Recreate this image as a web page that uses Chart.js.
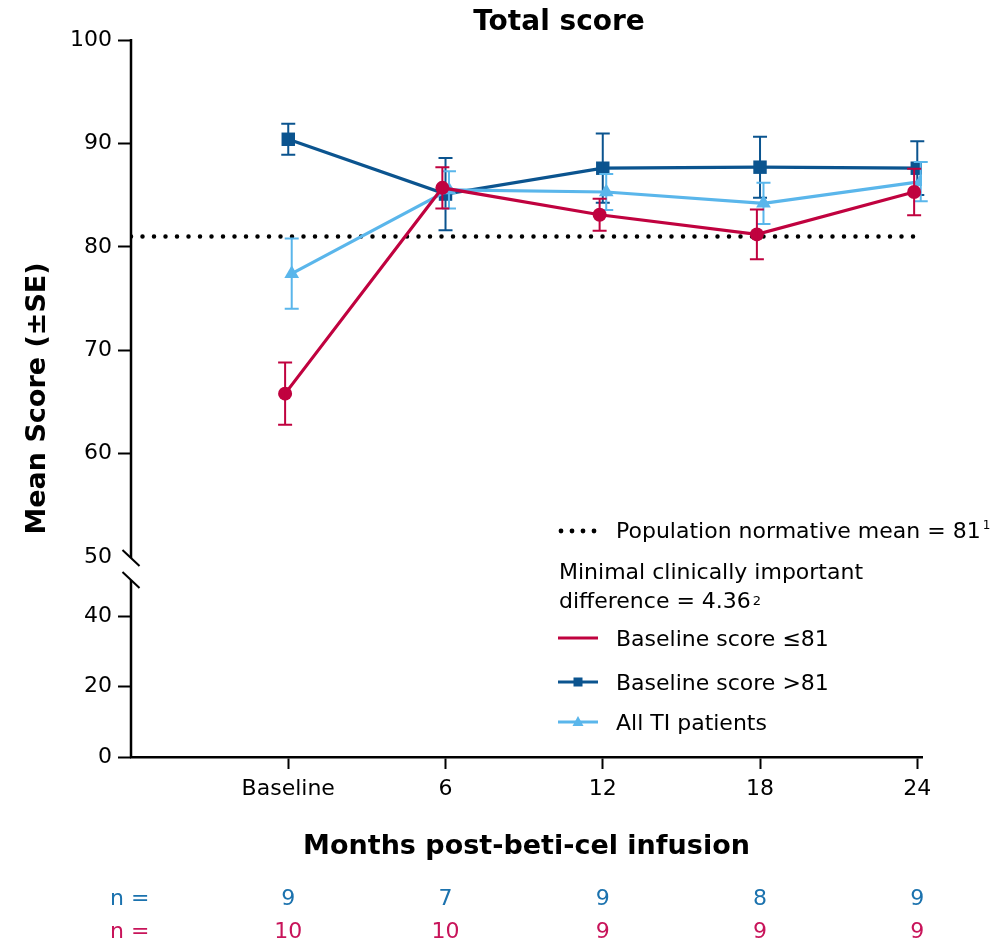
<!DOCTYPE html>
<html><head><meta charset="utf-8">
<script src="https://cdn.jsdelivr.net/npm/chart.js@4.4.1/dist/chart.umd.min.js"></script>
<style>html,body{margin:0;padding:0;background:#fff;} #wrap{width:999px;height:943px;position:relative;}</style>
</head><body><div id="wrap"><canvas id="c" width="999" height="943"></canvas></div>
<script>
// ---------- data ----------
const chartTitle = 'Total score';
const xLabels = ['Baseline', '6', '12', '18', '24'];
const lowLabel = 'Baseline score \u226481';
const lowMean = [65.8, 85.7, 83.1, 81.2, 85.3];
const lowSE   = [3.0, 2.0, 1.55, 2.4, 2.25];
const highLabel = 'Baseline score >81';
const highMean = [90.4, 85.1, 87.6, 87.7, 87.6];
const highSE   = [1.5, 3.5, 3.35, 2.95, 2.6];
const allLabel = 'All TI patients';
const allMean = [77.4, 85.5, 85.3, 84.2, 86.3];
const allSE   = [3.4, 1.8, 1.75, 2.0, 1.9];
const normMean = 81;
const mcid = 4.36;
const yTickValues = [0, 20, 40, 50, 60, 70, 80, 90, 100];
const nHigh = [9, 7, 9, 8, 9];
const nLow  = [10, 10, 9, 9, 9];

// ---------- style ----------
const RED = '#c0023f', DARK = '#0b548f', LIGHT = '#5ab6eb';
const N_BLUE = '#1b72ae', N_RED = '#c8145a';
const FONT = '"DejaVu Sans", sans-serif';
const BREAK_VALUE = 50, UPPER_FRAC = 517 / 717, LOWER_FRAC = 176 / 717;
const DODGE = {low: -0.02, high: 0, all: 0.022};

Chart.defaults.font.family = FONT;
Chart.defaults.color = '#000';

class BrokenLinearScale extends Chart.LinearScale {
  static id = 'brokenLinear';
  static defaults = {};
  buildTicks() { return yTickValues.map(v => ({value: v})); }
  getPixelForValue(v) {
    const h = this.bottom - this.top;
    if (v >= BREAK_VALUE) return this.top + (this.max - v) / (this.max - BREAK_VALUE) * h * UPPER_FRAC;
    return this.bottom - (v - this.min) / (BREAK_VALUE - this.min) * h * LOWER_FRAC;
  }
  getValueForPixel(p) {
    const h = this.bottom - this.top;
    const upBottom = this.top + h * UPPER_FRAC;
    if (p <= upBottom) return this.max - (p - this.top) / (h * UPPER_FRAC) * (this.max - BREAK_VALUE);
    return this.min + (this.bottom - p) / (h * LOWER_FRAC) * (BREAK_VALUE - this.min);
  }
}
Chart.register(BrokenLinearScale);

const pts = (means, d) => means.map((m, i) => ({x: i + d, y: m}));

const extras = {
  id: 'extras',
  afterDatasetDraw(chart, args) {
    const ds = chart.data.datasets[args.index];
    if (!ds.se) return;
    const ctx = chart.ctx, xs = chart.scales.x, ys = chart.scales.y;
    ctx.save();
    ctx.strokeStyle = ds.borderColor;
    ctx.lineWidth = 2;
    ds.data.forEach((p, i) => {
      const x = xs.getPixelForValue(p.x);
      const y1 = ys.getPixelForValue(p.y + ds.se[i]);
      const y2 = ys.getPixelForValue(p.y - ds.se[i]);
      ctx.beginPath();
      ctx.moveTo(x, y1); ctx.lineTo(x, y2);
      ctx.moveTo(x - 7, y1); ctx.lineTo(x + 7, y1);
      ctx.moveTo(x - 7, y2); ctx.lineTo(x + 7, y2);
      ctx.stroke();
    });
    ctx.restore();
  },
  afterDraw(chart) {
    const ctx = chart.ctx, xs = chart.scales.x, ys = chart.scales.y, ca = chart.chartArea;
    ctx.save();
    // broken y axis
    const ax = ca.left;
    const upEnd = ys.getPixelForValue(BREAK_VALUE);
    const lowStart = ys.getPixelForValue(BREAK_VALUE - 1e-6);
    ctx.strokeStyle = '#000'; ctx.lineWidth = 2.5; ctx.lineCap = 'butt';
    ctx.beginPath();
    ctx.moveTo(ax, ys.getPixelForValue(ys.max) - 1); ctx.lineTo(ax, upEnd + 1);
    ctx.moveTo(ax, lowStart - 1); ctx.lineTo(ax, ca.bottom + 1);
    ctx.stroke();
    ctx.lineWidth = 2;
    [upEnd + 1, lowStart - 1].forEach(c => {
      ctx.beginPath(); ctx.moveTo(ax - 8.5, c - 8); ctx.lineTo(ax + 8.5, c + 8); ctx.stroke();
    });

    // title
    ctx.fillStyle = '#000';
    ctx.textAlign = 'center'; ctx.textBaseline = 'alphabetic';
    ctx.font = 'bold 28px ' + FONT;
    ctx.fillText(chartTitle, 559, 30);

    // n rows
    ctx.font = '22px ' + FONT;
    ctx.textAlign = 'left';
    ctx.fillStyle = N_BLUE; ctx.fillText('n =', 110, 905);
    ctx.fillStyle = N_RED; ctx.fillText('n =', 110, 938);
    ctx.textAlign = 'center';
    nHigh.forEach((n, i) => { ctx.fillStyle = N_BLUE; ctx.fillText(String(n), xs.getPixelForValue(i), 905); });
    nLow.forEach((n, i) => { ctx.fillStyle = N_RED; ctx.fillText(String(n), xs.getPixelForValue(i), 938); });

    // legend
    ctx.textAlign = 'left';
    ctx.fillStyle = '#000';
    for (let k = 0; k < 4; k++) { ctx.beginPath(); ctx.arc(561 + k * 11, 531, 2.4, 0, Math.PI * 2); ctx.fill(); }
    const t1 = 'Population normative mean = ' + normMean;
    ctx.font = '22px ' + FONT;
    ctx.fillText(t1, 616, 538);
    let w = ctx.measureText(t1).width;
    ctx.font = '12px ' + FONT; ctx.fillText('1', 616 + w + 2, 529);
    ctx.font = '22px ' + FONT;
    ctx.fillText('Minimal clinically important', 559, 579);
    const t2 = 'difference = ' + mcid;
    ctx.fillText(t2, 559, 608);
    w = ctx.measureText(t2).width;
    ctx.font = '13px ' + FONT; ctx.fillText('2', 559 + w + 2, 605);
    ctx.font = '22px ' + FONT;
    const rows = [[RED, lowLabel, 638, null], [DARK, highLabel, 682, 'rect'], [LIGHT, allLabel, 722, 'tri']];
    rows.forEach(([col, lab, y, mk]) => {
      ctx.strokeStyle = col; ctx.lineWidth = 3;
      ctx.beginPath(); ctx.moveTo(558, y); ctx.lineTo(598, y); ctx.stroke();
      ctx.fillStyle = col;
      if (mk === 'rect') ctx.fillRect(573.5, y - 4.5, 9, 9);
      if (mk === 'tri') { ctx.beginPath(); ctx.moveTo(578, y - 6); ctx.lineTo(583.5, y + 4); ctx.lineTo(572.5, y + 4); ctx.closePath(); ctx.fill(); }
      ctx.fillStyle = '#000';
      ctx.fillText(lab, 616, y + 8);
    });
    ctx.restore();
  }
};

new Chart(document.getElementById('c'), {
  type: 'line',
  data: {
    datasets: [
      {label: lowLabel, data: pts(lowMean, DODGE.low), se: lowSE, borderColor: RED, backgroundColor: RED,
       borderWidth: 3.2, pointStyle: 'circle', pointRadius: 7, pointBorderWidth: 0, order: 0},
      {label: highLabel, data: pts(highMean, DODGE.high), se: highSE, borderColor: DARK, backgroundColor: DARK,
       borderWidth: 3.2, pointStyle: 'rect', pointRadius: 9.5, pointBorderWidth: 0, order: 2},
      {label: allLabel, data: pts(allMean, DODGE.all), se: allSE, borderColor: LIGHT, backgroundColor: LIGHT,
       borderWidth: 3.2, pointStyle: 'triangle', pointRadius: 8.5, pointBorderWidth: 0, order: 1},
      {label: 'Population normative mean', data: [{x: -1, y: normMean}, {x: 4.03, y: normMean}],
       borderColor: '#000', borderWidth: 4.5, borderDash: [0, 11.5], borderCapStyle: 'round',
       pointRadius: 0, order: 3}
    ]
  },
  options: {
    responsive: false,
    animation: false,
    layout: {padding: {left: 0, top: 40, right: 77, bottom: 0}},
    plugins: {legend: {display: false}, tooltip: {enabled: false}, title: {display: false}},
    elements: {line: {tension: 0}},
    scales: {
      x: {
        type: 'linear', min: -1, max: 4.03,
        afterBuildTicks: (s) => { s.ticks = xLabels.map((_, i) => ({value: i})); },
        afterFit: (s) => { s.height = 186; },
        ticks: {autoSkip: false, maxRotation: 0, padding: 7, font: {size: 22}, color: '#000',
                callback: (v) => xLabels[Math.round(v)]},
        grid: {drawOnChartArea: false, drawTicks: true, tickLength: 12, tickWidth: 2, tickColor: '#000'},
        border: {display: true, color: '#000', width: 2.5},
        title: {display: true, text: 'Months post-beti-cel infusion', font: {size: 27, weight: 'bold'},
                color: '#000', padding: {top: 0, bottom: 80}}
      },
      y: {
        type: 'brokenLinear', min: 0, max: 100,
        afterFit: (s) => { s.width = 131; },
        ticks: {padding: 6, font: {size: 22}, color: '#000', callback: (v) => String(v)},
        grid: {drawOnChartArea: false, drawTicks: true, tickLength: 13, tickWidth: 2,
               tickColor: (c) => (c.tick && c.tick.value === BREAK_VALUE) ? 'rgba(0,0,0,0)' : '#000'},
        border: {display: false},
        title: {display: true, text: 'Mean Score (\u00b1SE)', font: {size: 27, weight: 'bold'},
                color: '#000', padding: {top: 22, bottom: 0}}
      }
    }
  },
  plugins: [extras]
});
</script></body></html>
